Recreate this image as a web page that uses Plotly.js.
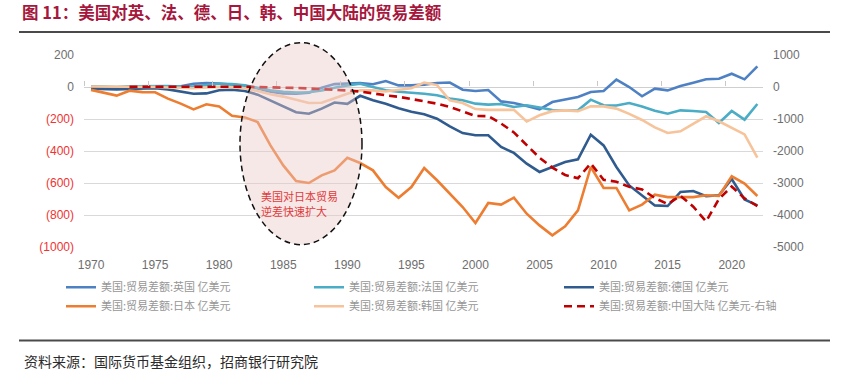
<!DOCTYPE html>
<html>
<head>
<meta charset="utf-8">
<script src="https://cdn.plot.ly/plotly-3.0.1.min.js"></script>
<style>
  html, body { margin: 0; padding: 0; background: #ffffff; }
  #chart { width: 843px; height: 373px; }
</style>
</head>
<body>
<div id="chart"></div>
<script>
// ---- data (亿美元) ----
const years = [1970,1971,1972,1973,1974,1975,1976,1977,1978,1979,
  1980,1981,1982,1983,1984,1985,1986,1987,1988,1989,
  1990,1991,1992,1993,1994,1995,1996,1997,1998,1999,
  2000,2001,2002,2003,2004,2005,2006,2007,2008,2009,
  2010,2011,2012,2013,2014,2015,2016,2017,2018,2019,
  2020,2021,2022];
const ukBalance = [-3,-5,-5,-2,0,2,0,5,20,25, 22,15,8,-10,-30,-40,-42,-35,-5,18,
  22,25,17,37,10,10,15,25,28,-17, -25,-19,-90,-100,-119,-140,-94,-80,-62,-31,
  -25,46,0,-58,-10,-21,6,27,48,52, 83,48,129];
const franceBalance = [5,3,0,5,5,8,6,3,5,12, 20,18,10,-5,-20,-30,-35,-33,-22,-5,
  10,20,0,-20,-30,-35,-42,-52,-72,-83, -104,-110,-106,-125,-114,-128,-144,-148,-146,-79,
  -114,-116,-100,-122,-148,-167,-146,-150,-156,-225, -150,-204,-106];
const germanyBalance = [-10,-12,-15,-12,-10,-8,-15,-30,-42,-40, -20,-17,-25,-48,-85,-122,-158,-167,-135,-97,
  -105,-55,-83,-105,-133,-155,-170,-198,-246,-288, -302,-302,-375,-412,-479,-531,-500,-469,-452,-298,
  -365,-500,-615,-677,-740,-744,-656,-650,-683,-677, -575,-703,-740];
const japanBalance = [-18,-37,-54,-23,-32,-33,-73,-104,-140,-108, -122,-180,-190,-219,-365,-490,-588,-600,-552,-521,
  -442,-475,-521,-625,-692,-625,-506,-583,-667,-750, -850,-725,-735,-692,-792,-865,-927,-871,-771,-500,
  -631,-631,-771,-735,-673,-688,-688,-688,-677,-681, -558,-604,-681];
const koreaBalance = [3,3,2,0,2,0,-3,-5,-8,-3, 0,-2,-8,-25,-45,-60,-80,-100,-98,-70,
  -42,-20,-21,-28,-20,-8,27,12,-83,-100, -138,-143,-143,-143,-216,-177,-151,-146,-151,-121,
  -121,-135,-168,-206,-252,-287,-277,-229,-183,-214, -254,-296,-441];
const chinaBalance = [null,null,null,6,8,3,2,0,5,10, 25,15,8,-2,-5,-15,-30,-45,-60,-85,
  -110,-140,-205,-260,-305,-375,-432,-520,-622,-760, -905,-910,-1140,-1420,-1800,-2210,-2520,-2750,-2850,-2390,
  -2900,-2960,-3120,-3200,-3470,-3660,-3400,-3740,-4200,-3500, -3110,-3480,-3720];

const seriesNames = ['美国:贸易差额:英国 亿美元','美国:贸易差额:法国 亿美元','美国:贸易差额:德国 亿美元',
  '美国:贸易差额:日本 亿美元','美国:贸易差额:韩国 亿美元','美国:贸易差额:中国大陆 亿美元-右轴'];

const xTickVals = [1970,1975,1980,1985,1990,1995,2000,2005,2010,2015,2020];
const xBoundaryTicks = [1969.5,1974.5,1979.5,1984.5,1989.5,1994.5,1999.5,2004.5,2009.5,2014.5,2019.5];
const leftTickVals = [-1000,-800,-600,-400,-200,0,200];
const leftTickLabels = ['(1000)','(800)','(600)','(400)','(200)','0','200'];
const rightTickVals = [-5000,-4000,-3000,-2000,-1000,0,1000];
const rightTickLabels = ['-5000','-4000','-3000','-2000','-1000','0','1000'];

const titleText = '图 11：美国对英、法、德、日、韩、中国大陆的贸易差额';
const noteLines = ['美国对日本贸易', '逆差快速扩大'];
const sourceText = '资料来源：国际货币基金组织，招商银行研究院';

// ---- build ----
const CJK = '"Noto Sans CJK SC", "Noto Sans", sans-serif';
const NUM = '"Liberation Sans", Arial, sans-serif';
const leftTickText = leftTickVals.map((v, i) =>
  v < 0 ? '<span style="color:#F03232">' + leftTickLabels[i] + '</span>' : leftTickLabels[i]);

function line(y, name, color, legend, extra) {
  return Object.assign({
    type: 'scatter', mode: 'lines', x: years, y: y, name: name, legend: legend,
    line: { color: color, width: 2.6 }, hoverinfo: 'skip'
  }, extra || {});
}

const traces = [
  line(ukBalance, seriesNames[0], '#4E81C4', 'legend'),
  line(franceBalance, seriesNames[1], '#4BACC6', 'legend2'),
  line(germanyBalance, seriesNames[2], '#2F5B8F', 'legend3'),
  line(japanBalance, seriesNames[3], '#ED7D31', 'legend'),
  line(koreaBalance, seriesNames[4], '#F7C39A', 'legend2'),
  line(chinaBalance, seriesNames[5], '#C00000', 'legend3',
       { xaxis: 'x2', yaxis: 'y2', line: { color: '#C00000', width: 2.6, dash: '8px,5px' } })
];

// plot area pixels: x 84..763, y 55.3..247.3
const PX0 = 84, PW = 679, PY1 = 247.3, PH = 192;
const px = v => (v - PX0) / PW;
const py = v => (PY1 - v) / PH;

const legendCommon = {
  orientation: 'v', xanchor: 'left', yanchor: 'top', bgcolor: 'rgba(0,0,0,0)',
  font: { family: CJK, size: 11, color: '#969696' }, itemwidth: 30, tracegroupgap: 0,
  itemclick: false, itemdoubleclick: false
};

const layout = {
  width: 843, height: 373,
  margin: { l: 84, r: 80, t: 55.3, b: 125.7, pad: 0 },
  paper_bgcolor: '#ffffff', plot_bgcolor: '#ffffff',
  showlegend: true,
  title: {
    text: titleText, x: 22 / 843, xanchor: 'left', xref: 'container',
    y: 1 - 13 / 373, yanchor: 'middle', yref: 'container',
    font: { family: CJK, size: 16.5, color: '#A6173D', weight: 'bold' }
  },
  xaxis: {
    type: 'linear', range: [1969.45, 2022.44], tickvals: xTickVals, ticktext: xTickVals.map(String),
    showgrid: false, zeroline: false, showline: false, ticks: '',
    tickfont: { family: NUM, size: 12, color: '#6E6E6E' }, ticklabelstandoff: 9, fixedrange: true
  },
  xaxis2: {
    type: 'linear', overlaying: 'x', matches: 'x', anchor: 'free', position: py(86.7), side: 'top',
    tickvals: xBoundaryTicks, showticklabels: false, ticks: 'outside', ticklen: 5, tickwidth: 1,
    tickcolor: '#C8C8C8', showgrid: false, zeroline: false, showline: false, fixedrange: true
  },
  yaxis: {
    range: [-1000, 200], tickvals: leftTickVals, ticktext: leftTickText,
    showgrid: true, gridcolor: '#D9D9D9', gridwidth: 1,
    zeroline: true, zerolinecolor: '#CFCFCF', zerolinewidth: 1,
    showline: false, ticks: '', ticklabelstandoff: 9,
    tickfont: { family: NUM, size: 12, color: '#6E6E6E' }, fixedrange: true
  },
  yaxis2: {
    range: [-5000, 1000], overlaying: 'y', side: 'right', anchor: 'x',
    tickvals: rightTickVals, ticktext: rightTickLabels,
    showgrid: false, zeroline: false, showline: false, ticks: '', ticklabelstandoff: 9,
    tickfont: { family: NUM, size: 12, color: '#6E6E6E' }, fixedrange: true
  },
  legend: Object.assign({}, legendCommon, { x: px(61), y: py(273) }),
  legend2: Object.assign({}, legendCommon, { x: px(309), y: py(273) }),
  legend3: Object.assign({}, legendCommon, { x: px(559), y: py(273) }),
  shapes: [
    { type: 'line', xref: 'paper', yref: 'paper', x0: px(19), x1: px(830), y0: py(32.3), y1: py(32.3),
      line: { color: '#4A4A4A', width: 2 }, layer: 'above' },
    { type: 'line', xref: 'paper', yref: 'paper', x0: px(19), x1: px(830), y0: py(340.7), y1: py(340.7),
      line: { color: '#4A4A4A', width: 2 }, layer: 'above' },
    { type: 'circle', xref: 'paper', yref: 'paper', x0: px(240), x1: px(362), y0: py(245), y1: py(43),
      fillcolor: 'rgba(236,200,200,0.42)', line: { color: '#111111', width: 1.5, dash: '6px,4px' },
      layer: 'above' }
  ],
  annotations: [
    { xref: 'paper', yref: 'paper', x: px(259), y: py(196), xanchor: 'left', yanchor: 'middle',
      align: 'left', showarrow: false, text: noteLines[0],
      font: { family: CJK, size: 11, color: '#E23A3A' } },
    { xref: 'paper', yref: 'paper', x: px(259), y: py(211), xanchor: 'left', yanchor: 'middle',
      align: 'left', showarrow: false, text: noteLines[1],
      font: { family: CJK, size: 11, color: '#E23A3A' } },
    { xref: 'paper', yref: 'paper', x: px(22), y: py(361), xanchor: 'left', yanchor: 'middle',
      align: 'left', showarrow: false, text: sourceText,
      font: { family: CJK, size: 14, color: '#2B2B2B' } }
  ]
};

Plotly.newPlot('chart', traces, layout, { displayModeBar: false, staticPlot: true });
</script>
</body>
</html>
